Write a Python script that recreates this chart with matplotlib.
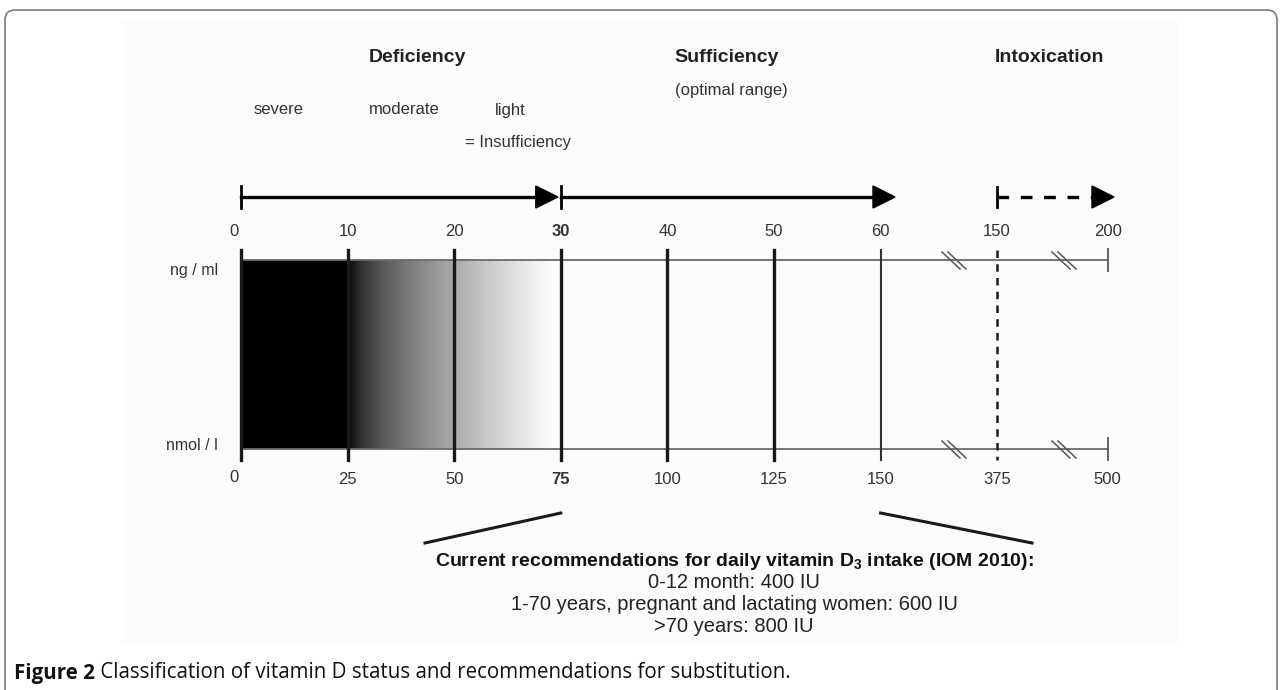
import numpy as np
import matplotlib.pyplot as plt
from matplotlib.patches import Polygon, Rectangle, FancyBboxPatch

plt.rcParams['font.family'] = ['Liberation Sans', 'DejaVu Sans']
plt.rcParams['mathtext.fontset'] = 'custom'
plt.rcParams['mathtext.bf'] = 'Liberation Sans:bold'
plt.rcParams['mathtext.rm'] = 'Liberation Sans'
plt.rcParams['mathtext.default'] = 'bf'

# scale values
ng_ticks = [0, 10, 20, 30, 40, 50, 60, 150, 200]
nmol_ticks = [0, 25, 50, 75, 100, 125, 150, 375, 500]
bold_ticks = [30, 75]

# status categories
main_labels = ['Deficiency', 'Sufficiency', 'Intoxication']
sub_labels = ['severe', 'moderate', 'light']

recommend_title = 'Current recommendations for daily vitamin D$_3$ intake (IOM 2010):'
recommend_lines = ['0-12 month: 400 IU',
                   '1-70 years, pregnant and lactating women: 600 IU',
                   '>70 years: 800 IU']


# position of a tick slot on the page (axis broken after 60 ng/ml)
X0, STEP = 241, 106.6
slots = [0, 1, 2, 3, 4, 5, 6, 7.09, 8.13]
def xpos(i):
    return X0 + STEP * slots[i]

Y_TOP, Y_BOT = 260, 449
Y_ARROW = 197

fig = plt.figure(figsize=(12.82, 6.90), dpi=100)
ax = fig.add_axes([0, 0, 1, 1])
ax.set_xlim(0, 1282)
ax.set_ylim(690, 0)
ax.axis('off')

# frame and faint image background
frame = FancyBboxPatch((5, 10), 1272, 720, boxstyle='round,pad=0,rounding_size=10',
                       facecolor='white', edgecolor='#7a7a7a', lw=1.2, zorder=0)
ax.add_patch(frame)
ax.add_patch(Rectangle((123, 20), 1055, 623, facecolor='#fcfcfc', edgecolor='none', zorder=0.5))

# black + gradient bar
ax.add_patch(Rectangle((xpos(0), Y_TOP), xpos(1) - xpos(0), Y_BOT - Y_TOP,
                       facecolor='black', edgecolor='none', zorder=1))
t = np.linspace(0, 1, 400)
grad = np.clip(t, 0, 1) ** 0.6
ax.imshow(grad[np.newaxis, :], cmap='gray', vmin=0, vmax=1, aspect='auto',
          extent=(xpos(1), xpos(3) - 6, Y_BOT, Y_TOP), zorder=1)
ax.add_patch(Rectangle((xpos(3) - 6, Y_TOP), 6, Y_BOT - Y_TOP, facecolor='white',
                       edgecolor='none', zorder=1))

# horizontal scale lines
for y in (Y_TOP, Y_BOT):
    ax.plot([xpos(0), xpos(8)], [y, y], color='#6a6a6a', lw=1.3, zorder=2)

# vertical markers
for i in range(6):
    ax.plot([xpos(i), xpos(i)], [Y_TOP - 10, Y_BOT + 11], color='#1a1a1a', lw=2.4, zorder=3)
ax.plot([xpos(6), xpos(6)], [Y_TOP - 10, Y_BOT + 11], color='#333333', lw=1.5, zorder=3)
ax.plot([xpos(7), xpos(7)], [Y_TOP - 10, Y_BOT + 11], color='#1a1a1a', lw=1.8,
        ls=(0, (3, 2.5)), zorder=3)
for y in (Y_TOP, Y_BOT):
    ax.plot([xpos(8), xpos(8)], [y - 11, y + 11], color='#555555', lw=1.3, zorder=3)

# axis break marks
for xb in (954, 1064):
    for y in (Y_TOP, Y_BOT):
        for dx in (-3, 3):
            ax.plot([xb + dx - 9, xb + dx + 9], [y - 8, y + 9], color='#555555', lw=1.1, zorder=3)

# tick labels
for i, (ng, nm) in enumerate(zip(ng_ticks, nmol_ticks)):
    xl = xpos(i) - 7 if i == 0 else xpos(i)
    ax.text(xl, 232, str(ng), ha='center', va='center', fontsize=12, color='#333333',
            fontweight='bold' if ng in bold_ticks else 'normal')
    ax.text(xl, 480 if i else 477, str(nm), ha='center', va='center', fontsize=12, color='#333333',
            fontweight='bold' if nm in bold_ticks else 'normal')

ax.text(218, 270, 'ng / ml', ha='right', va='center', fontsize=11.5, color='#333333')
ax.text(218, 446, 'nmol / l', ha='right', va='center', fontsize=11.5, color='#333333')

# status arrows
def head(tip, y, color='black'):
    ax.add_patch(Polygon([[tip - 22, y - 11], [tip - 22, y + 11], [tip, y]],
                         closed=True, facecolor=color, edgecolor=color, zorder=4))

ax.plot([xpos(0), xpos(0)], [Y_ARROW - 11, Y_ARROW + 11], color='black', lw=2, zorder=4)
ax.plot([xpos(0), xpos(3) - 22], [Y_ARROW, Y_ARROW], color='black', lw=2.4, zorder=4)
head(xpos(3) - 3, Y_ARROW)
ax.plot([xpos(3), xpos(3)], [Y_ARROW - 11, Y_ARROW + 11], color='black', lw=2, zorder=4)
ax.plot([xpos(3), 875], [Y_ARROW, Y_ARROW], color='black', lw=2.4, zorder=4)
head(895, Y_ARROW)
ax.plot([xpos(7), xpos(7)], [Y_ARROW - 10, Y_ARROW + 10], color='black', lw=2, zorder=4)
ax.plot([xpos(7), 1092], [Y_ARROW, Y_ARROW], color='black', lw=2.4, ls=(0, (3.5, 3.5)), zorder=4)
head(1114, Y_ARROW)

# category labels
ax.text(417, 57, main_labels[0], ha='center', va='center', fontsize=14, fontweight='bold', color='#222222')
ax.text(727, 57, main_labels[1], ha='center', va='center', fontsize=14, fontweight='bold', color='#222222')
ax.text(1049, 57, main_labels[2], ha='center', va='center', fontsize=14, fontweight='bold', color='#222222')
ax.text(731, 91, '(optimal range)', ha='center', va='center', fontsize=12, color='#333333')
for xl, lab in zip([279, 404, 510], sub_labels):
    ax.text(xl, 110, lab, ha='center', va='center', fontsize=12, color='#333333')
ax.text(518, 143, '= Insufficiency', ha='center', va='center', fontsize=12, color='#333333')

# lines pointing to the recommendation block
ax.plot([425, xpos(3)], [543, 513], color='#1a1a1a', lw=2.2, zorder=3)
ax.plot([xpos(6), 1032], [513, 543], color='#1a1a1a', lw=2.2, zorder=3)

ax.text(734, 561, recommend_title, ha='center', va='center', fontsize=14, fontweight='bold',
        color='#111111')
for k, line in enumerate(recommend_lines):
    ax.text(734, 583 + 22 * k, line, ha='center', va='center', fontsize=14.5, color='#222222')

# caption
cap = ax.text(14, 673, 'Figure 2', ha='left', va='center', fontsize=14.8, fontweight='bold',
              family=['Open Sans', 'DejaVu Sans'], color='#111111')
ax.annotate(' Classification of vitamin D status and recommendations for substitution.',
            xycoords=cap, xy=(1, 0.5), ha='left', va='center', fontsize=14.8,
            family=['Open Sans', 'DejaVu Sans'], color='#111111')

fig.savefig('out.png', dpi=100)
